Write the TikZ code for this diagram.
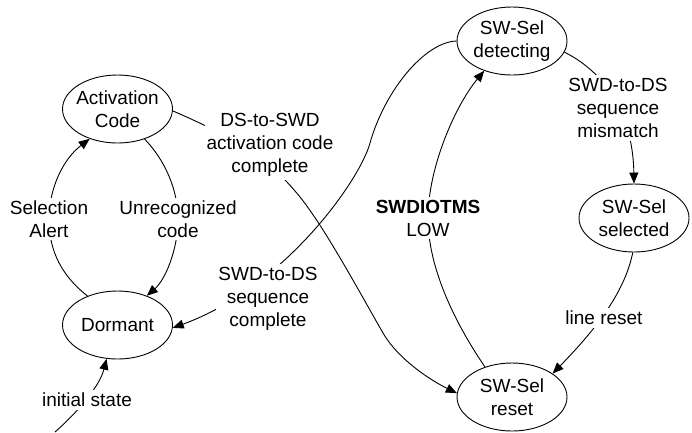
\documentclass[tikz,border=0pt]{standalone}
\usepackage{fontspec}
\setmainfont{Liberation Sans}
\usetikzlibrary{shapes.geometric,arrows.meta}
\newcommand{\diagfont}{\fontsize{19pt}{23pt}\selectfont}
\begin{document}
\begin{tikzpicture}[x=1pt,y=-1pt,
  state/.style={ellipse,draw,line width=0.9pt,minimum width=110pt,minimum height=68pt,
                inner xsep=-6pt,inner ysep=0pt,align=center,font=\diagfont},
  lbl/.style={fill=white,align=center,inner xsep=2pt,inner ysep=3pt,font=\diagfont},
  conn/.style={line width=0.9pt},
  arr/.style={conn,-{Triangle[length=11pt,width=9pt]}}]
\useasboundingbox (0,0) rectangle (692,432);

% states
\node[state] (act)  at (117.5,109) {Activation\\Code};
\node[state] (dorm) at (117.5,325) {Dormant};
\node[state] (det)  at (512,41)    {SW-Sel\\detecting};
\node[state] (sel)  at (634,218)   {SW-Sel\\selected};
\node[state] (rst)  at (512,397)   {SW-Sel\\reset};

% connectors
\draw[arr] (dorm.136) .. controls (57,272) and (49,245) .. (49,219)
           .. controls (49,190) and (62,160) .. (act.227);
\draw[arr] (act.-48) .. controls (165,160) and (178,190) .. (178,219)
           .. controls (178,250) and (165,280) .. (dorm.45);
\draw[arr] (act.-2) .. controls (240,140) and (270,160) .. (300,197)
           .. controls (325,228) and (360,293) .. (383,333)
           .. controls (398,359) and (430,380) .. (rst.176);
\draw[arr] (det.180) .. controls (425,42) and (385,90) .. (370,143)
           .. controls (360,180) and (285,287) .. (dorm.-3);
\coordinate (init) at (55,432);
\draw[arr] (init) .. controls (80,410) and (100,385) .. (dorm.-108);
\draw[arr] (rst.132) .. controls (455,323) and (428,268) .. (428,218)
           .. controls (428,168) and (455,106) .. (det.-133);
\draw[arr] (det.-12) .. controls (610,75) and (633,120) .. (sel.north);
\draw[arr] (sel.-92) .. controls (625,290) and (600,325) .. (rst.30);

% labels
\node[lbl] (lsa)  at (49,219)  {Selection\\Alert};
\node[lbl] (luc)  at (178,219) {Unrecognized\\code};
\node[lbl] (lds)  at (270,145) {DS-to-SWD\\activation code\\complete};
\node[lbl] (lsc)  at (268,299) {SWD-to-DS\\sequence\\complete};
\node[lbl] (lin)  at (87,400)  {initial state};
\node[lbl] (llow) at (428,218) {\textbf{SWDIOTMS}\\LOW};
\node[lbl] (lmm)  at (618,108) {SWD-to-DS\\sequence\\mismatch};
\node[lbl] (llr)  at (604,318) {line reset};
\end{tikzpicture}
\end{document}
